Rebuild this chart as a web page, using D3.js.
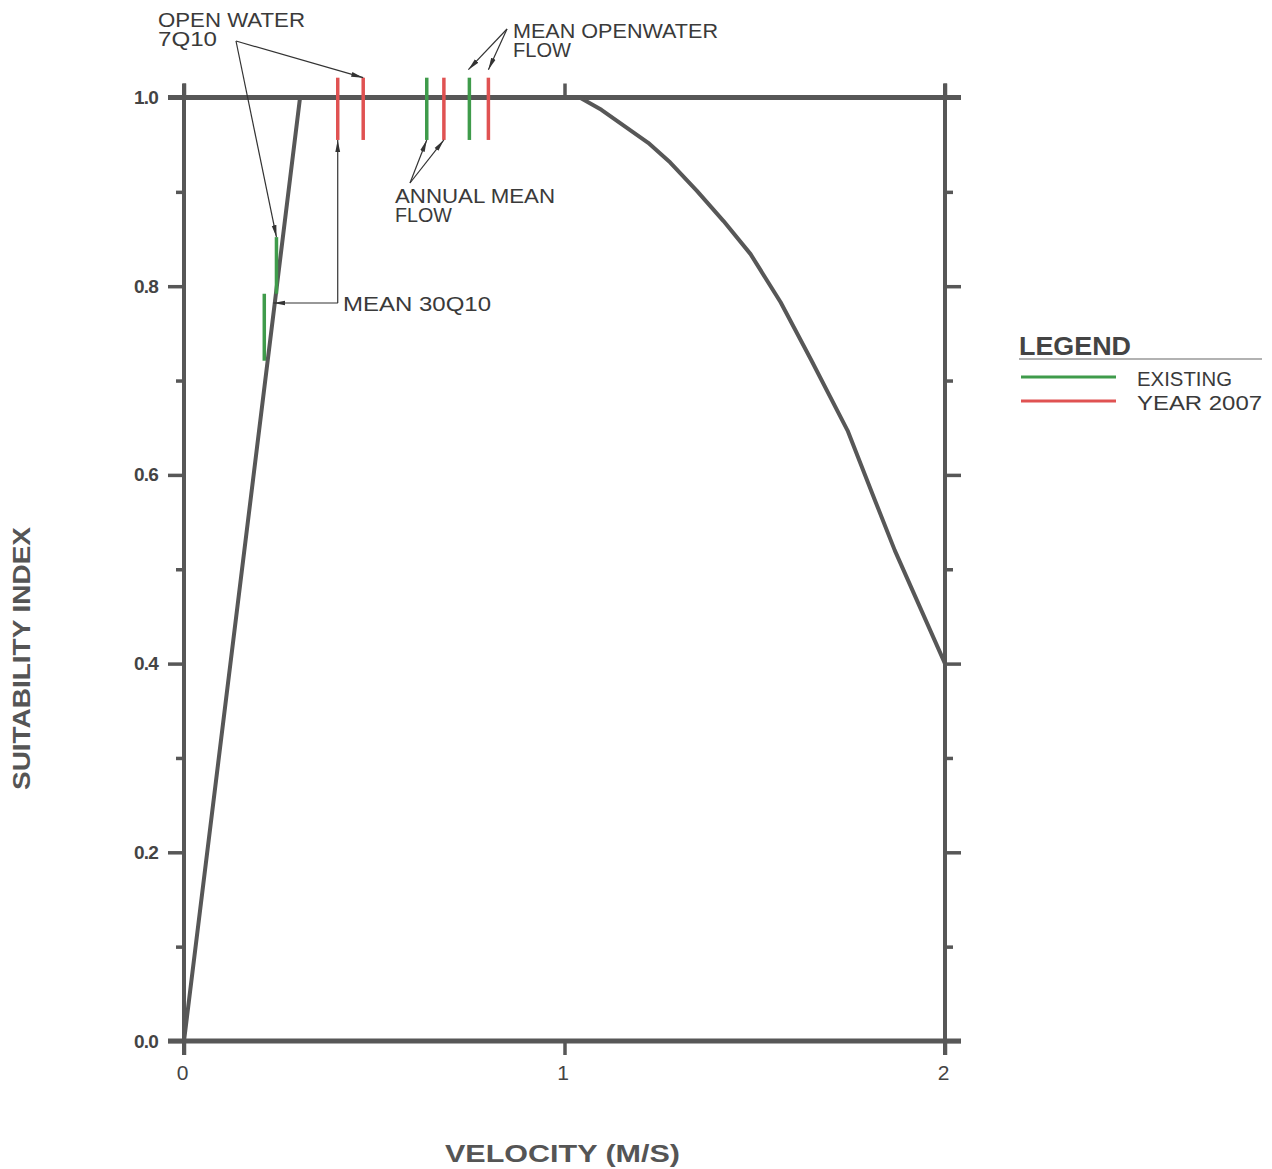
<!DOCTYPE html>
<html>
<head>
<meta charset="utf-8">
<title>Suitability index vs velocity</title>
<style>
body { margin: 0; background: #fff; }
svg text { font-family: "Liberation Sans", Arial, sans-serif; }
</style>
</head>
<body>
<script src="https://cdnjs.cloudflare.com/ajax/libs/d3/7.8.5/d3.min.js"></script>
<script>

// suitability curve (velocity m/s -> index)
var curveV = [0, 0.305, 1.04, 1.097, 1.22, 1.278, 1.348, 1.418, 1.489, 1.568, 1.648, 1.744, 1.815, 1.868, 2.0];
var curveS = [0, 1.0, 1.0, 0.987, 0.952, 0.931, 0.901, 0.869, 0.834, 0.783, 0.722, 0.647, 0.574, 0.520, 0.40];

// flow markers (short vertical bars)
var markerV   = [0.243, 0.211, 0.404, 0.471, 0.638, 0.683, 0.750, 0.800];
var markerTop = [0.852, 0.792, 1.021, 1.021, 1.021, 1.021, 1.021, 1.021];
var markerBot = [0.792, 0.721, 0.955, 0.955, 0.955, 0.955, 0.955, 0.955];
var markerSer = ["EXISTING", "EXISTING", "YEAR 2007", "YEAR 2007", "EXISTING", "YEAR 2007", "EXISTING", "YEAR 2007"];

var seriesNames  = ["EXISTING", "YEAR 2007"];
var seriesColors = ["#3f9b4b", "#e05252"];

var xTicks = [0, 1, 2];
var yMajor = [0, 0.2, 0.4, 0.6, 0.8, 1.0];
var yMinor = [0.1, 0.3, 0.5, 0.7, 0.9];

var W = 1272, H = 1169;
var ink = "#575757";

var svg = d3.select("body").append("svg")
	.attr("width", W)
	.attr("height", H);

var x = d3.scaleLinear().domain([0, 2]).range([184, 945]);
var y = d3.scaleLinear().domain([0, 1]).range([1041, 97.5]);
var color = d3.scaleOrdinal().domain(seriesNames).range(seriesColors);

// arrow head
svg.append("defs").append("marker")
	.attr("id", "arr")
	.attr("viewBox", "0 -3 12 6")
	.attr("refX", 12).attr("refY", 0)
	.attr("markerWidth", 12).attr("markerHeight", 6)
	.attr("markerUnits", "userSpaceOnUse")
	.attr("orient", "auto")
	.append("path")
	.attr("d", "M0,-2.4L12,0L0,2.4Z")
	.attr("fill", "#333");

// ---- frame + ticks
function styleAxis(g) {
	g.select(".domain").remove();
	g.selectAll("line").attr("stroke", ink).attr("stroke-width", 3.5);
}

svg.append("g").attr("transform", "translate(" + x(0) + ",0)")
	.call(d3.axisLeft(y).tickValues(yMajor).tickSize(16).tickPadding(10).tickFormat(d3.format(".1f")))
	.call(styleAxis)
	.selectAll("text")
	.attr("font-size", 19).attr("font-weight", "bold").attr("fill", "#444")
	.attr("font-family", "Liberation Sans").attr("letter-spacing", -0.8);

svg.append("g").attr("transform", "translate(" + x(0) + ",0)")
	.call(d3.axisLeft(y).tickValues(yMinor).tickSize(8).tickFormat(""))
	.call(styleAxis);

svg.append("g").attr("transform", "translate(" + x(2) + ",0)")
	.call(d3.axisRight(y).tickValues(yMajor).tickSize(16).tickFormat(""))
	.call(styleAxis);

svg.append("g").attr("transform", "translate(" + x(2) + ",0)")
	.call(d3.axisRight(y).tickValues(yMinor).tickSize(8).tickFormat(""))
	.call(styleAxis);

svg.append("g").attr("transform", "translate(0," + y(0) + ")")
	.call(d3.axisBottom(x).tickValues(xTicks).tickSize(14).tickPadding(10).tickFormat(d3.format("d")))
	.call(styleAxis)
	.selectAll("text")
	.attr("font-size", 21).attr("fill", "#444").attr("dx", -2);

svg.append("g").attr("transform", "translate(0," + y(1) + ")")
	.call(d3.axisTop(x).tickValues(xTicks).tickSize(14).tickFormat(""))
	.call(styleAxis);

// box lines, extending past the corners
[0, 1].forEach(function(s){
	svg.append("line")
		.attr("x1", x(0) - 16).attr("x2", x(2) + 16)
		.attr("y1", y(s)).attr("y2", y(s))
		.attr("stroke", ink).attr("stroke-width", 5);
});
[0, 2].forEach(function(v){
	svg.append("line")
		.attr("x1", x(v)).attr("x2", x(v))
		.attr("y1", y(1) - 14).attr("y2", y(0) + 14)
		.attr("stroke", ink).attr("stroke-width", 4);
});

// ---- curve
var pts = curveV.map(function(v, i){ return [v, curveS[i]]; });
svg.append("path")
	.datum(pts)
	.attr("fill", "none")
	.attr("stroke", ink)
	.attr("stroke-width", 4)
	.attr("stroke-linejoin", "round")
	.attr("d", d3.line().x(function(d){ return x(d[0]); }).y(function(d){ return y(d[1]); }));

// ---- markers
svg.selectAll(".mk").data(markerV).enter().append("line")
	.attr("class", "mk")
	.attr("x1", function(d){ return x(d); })
	.attr("x2", function(d){ return x(d); })
	.attr("y1", function(d, i){ return y(markerTop[i]); })
	.attr("y2", function(d, i){ return y(markerBot[i]); })
	.attr("stroke", function(d, i){ return color(markerSer[i]); })
	.attr("stroke-width", 3.5);

// ---- annotations
function lead(x1, y1, x2, y2) {
	svg.append("line")
		.attr("x1", x1).attr("y1", y1).attr("x2", x2).attr("y2", y2)
		.attr("stroke", "#333").attr("stroke-width", 1.2)
		.attr("marker-end", "url(#arr)");
}
function label(txt, tx, ty, len) {
	svg.append("text")
		.attr("x", tx).attr("y", ty)
		.attr("font-size", 21).attr("fill", "#3a3a3a")
		.attr("textLength", len).attr("lengthAdjust", "spacingAndGlyphs")
		.text(txt);
}

label("OPEN  WATER", 158, 27, 147);
label("7Q10", 158, 46, 59);
lead(236, 41, x(markerV[0]), y(markerTop[0]));
lead(236, 41, x(markerV[3]), y(markerTop[3]));

label("MEAN  OPENWATER", 513, 38, 205);
label("FLOW", 513, 57, 58);
lead(507, 29, x(markerV[6]) - 1, y(markerTop[6]) - 8);
lead(507, 29, x(markerV[7]), y(markerTop[7]) - 8);

label("ANNUAL  MEAN", 395, 203, 160);
label("FLOW", 395, 222, 57);
lead(410, 183, x(markerV[4]), y(markerBot[4]));
lead(410, 183, x(markerV[5]), y(markerBot[5]));

label("MEAN  30Q10", 343, 311, 148);
svg.append("line")
	.attr("x1", 338).attr("y1", 303).attr("x2", x(markerV[2])).attr("y2", 303)
	.attr("stroke", "#333").attr("stroke-width", 1.2);
lead(x(markerV[2]), 303, x(markerV[2]), y(markerBot[2]));
lead(x(markerV[2]), 303, x(markerV[1]) + 9, 303);

// ---- axis titles
svg.append("text")
	.attr("x", 445).attr("y", 1162)
	.attr("font-size", 24).attr("font-weight", "bold").attr("fill", "#555")
	.attr("textLength", 235).attr("lengthAdjust", "spacingAndGlyphs")
	.text("VELOCITY  (M/S)");

svg.append("text")
	.attr("transform", "translate(30,790) rotate(-90)")
	.attr("font-size", 24).attr("font-weight", "bold").attr("fill", "#555")
	.attr("textLength", 263).attr("lengthAdjust", "spacingAndGlyphs")
	.text("SUITABILITY  INDEX");

// ---- legend
var lg = svg.append("g");
lg.append("text")
	.attr("x", 1019).attr("y", 355)
	.attr("font-size", 25).attr("font-weight", "bold").attr("fill", "#444")
	.attr("textLength", 112).attr("lengthAdjust", "spacingAndGlyphs")
	.text("LEGEND");
lg.append("line")
	.attr("x1", 1019).attr("x2", 1262).attr("y1", 359).attr("y2", 359)
	.attr("stroke", "#666").attr("stroke-width", 1.2);

var items = lg.selectAll(".it").data(seriesNames).enter().append("g")
	.attr("class", "it")
	.attr("transform", function(d, i){ return "translate(0," + (377 + i * 24) + ")"; });
items.append("line")
	.attr("x1", 1021).attr("x2", 1116)
	.attr("stroke", function(d){ return color(d); })
	.attr("stroke-width", 3);
items.append("text")
	.attr("x", 1137).attr("y", 9)
	.attr("font-size", 20).attr("fill", "#3a3a3a")
	.attr("textLength", function(d, i){ return i ? 125 : 95; })
	.attr("lengthAdjust", "spacingAndGlyphs")
	.text(function(d){ return d.replace(" ", "  "); });

</script>
</body>
</html>
